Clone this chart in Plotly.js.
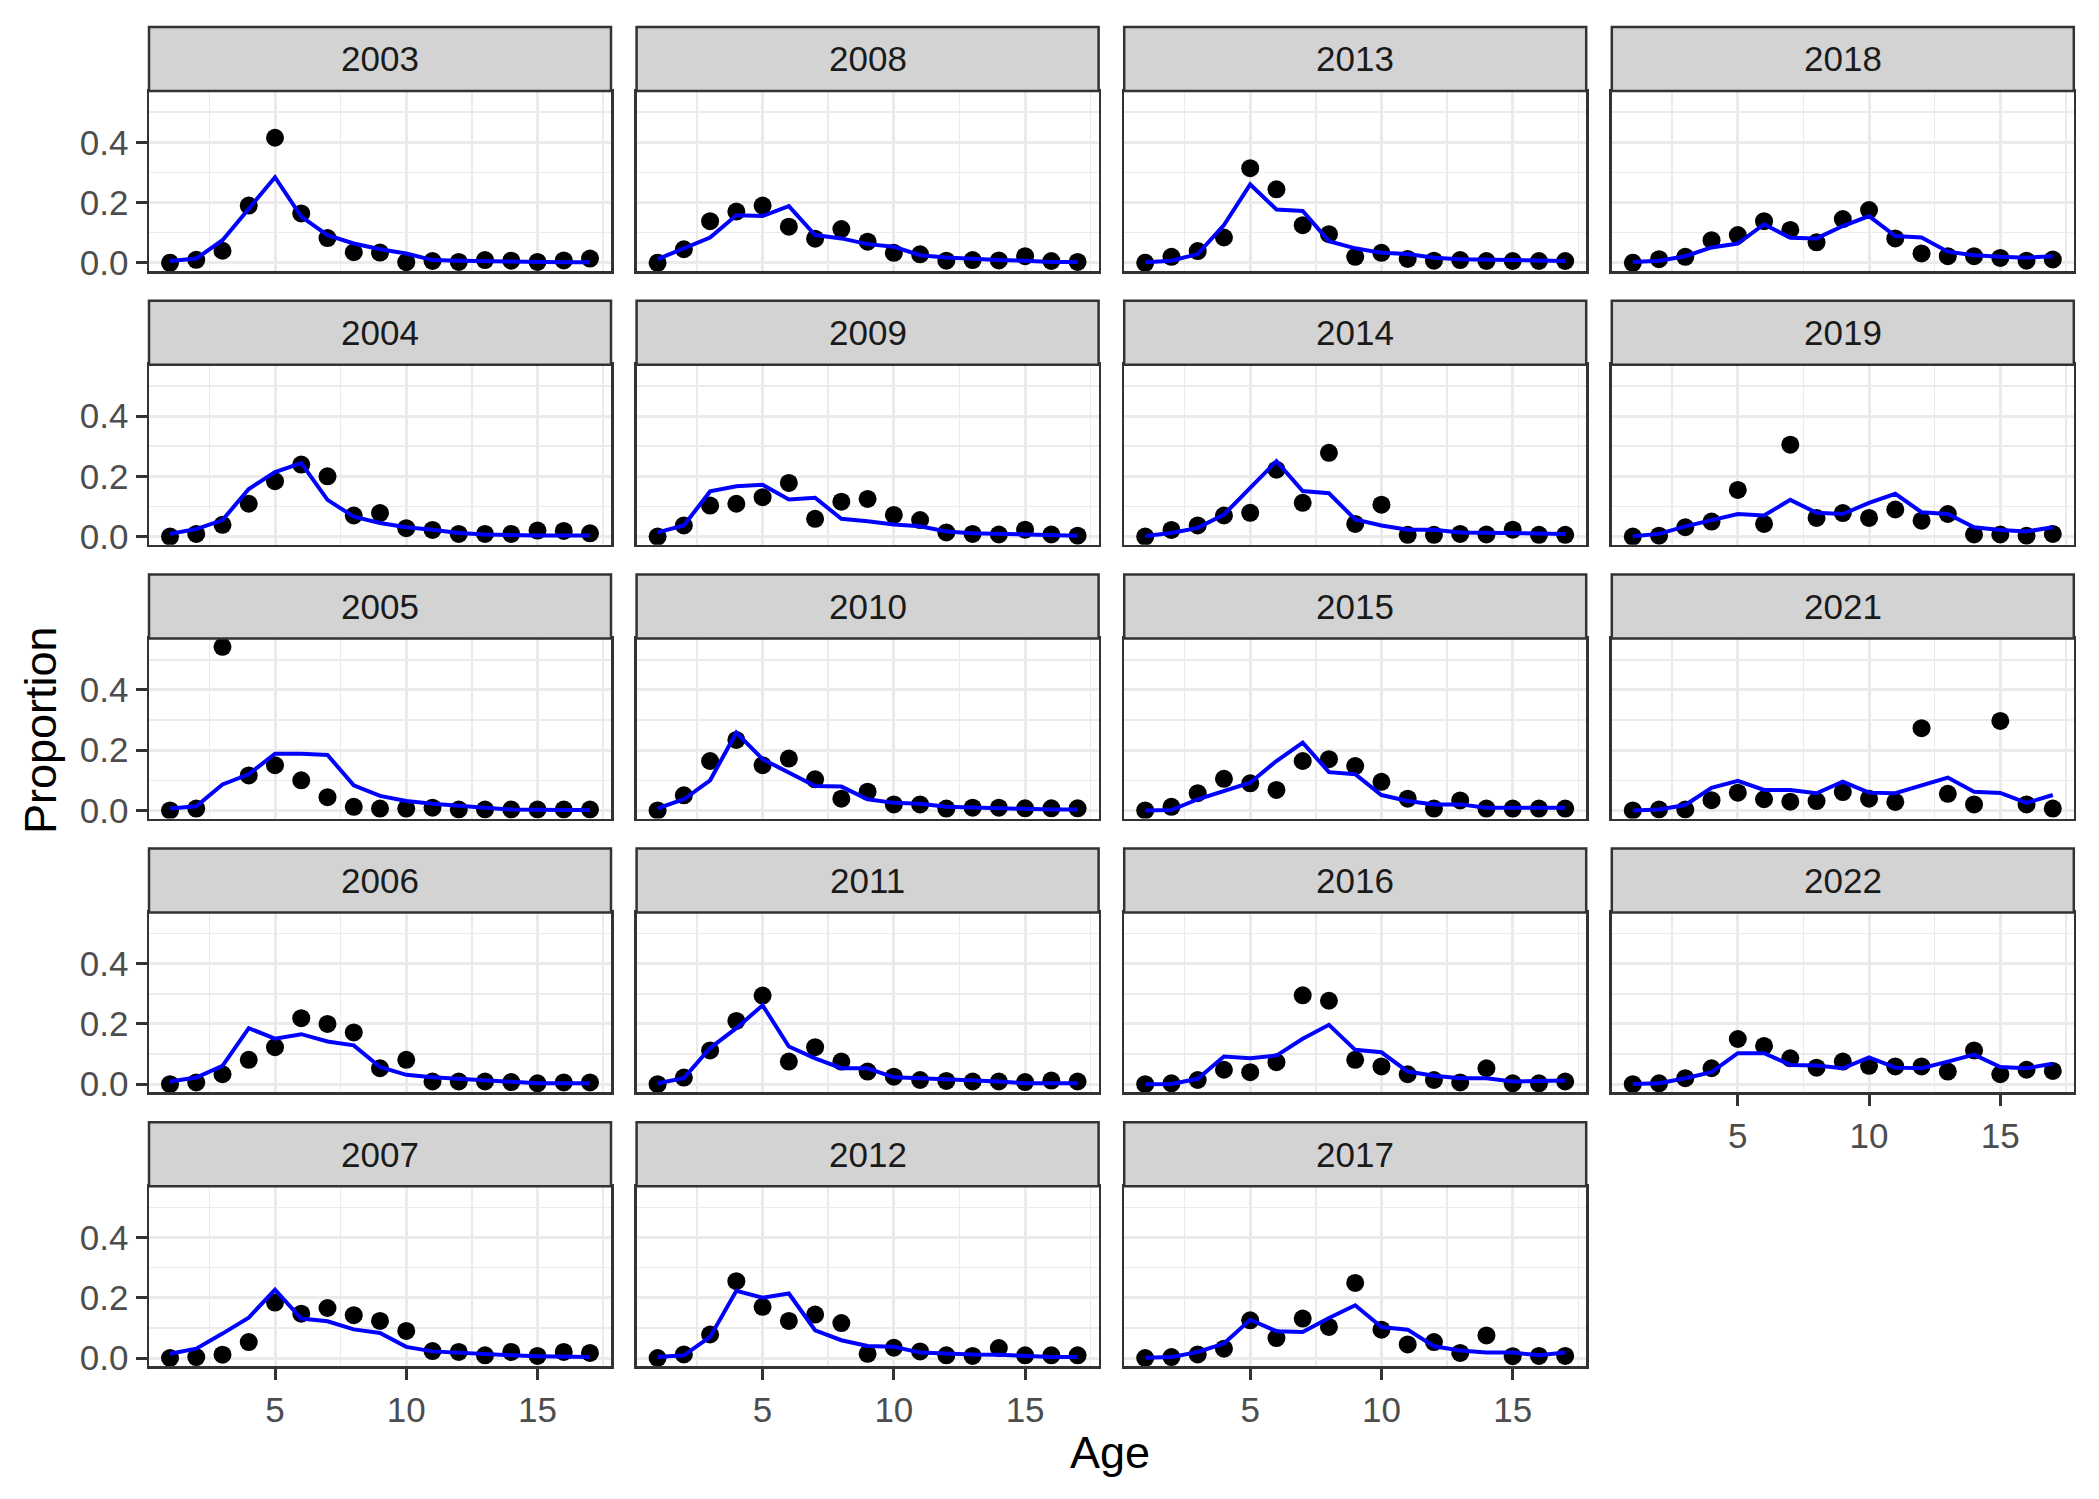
<!DOCTYPE html>
<html>
<head>
<meta charset="utf-8">
<script src="https://cdn.plot.ly/plotly-3.0.1.min.js"></script>
<style>
  body { margin: 0; background: #fff; }
  #plotComps { width: 2099px; height: 1499px; }
</style>
</head>
<body>
<div id="plotComps"></div>
<script>
// age composition fits: observed proportions (dots) vs expected (line)
const ages = [1, 2, 3, 4, 5, 6, 7, 8, 9, 10, 11, 12, 13, 14, 15, 16, 17];

// facet order runs down each column (facet_wrap dir = "v")
const years = [2003, 2004, 2005, 2006, 2007,
               2008, 2009, 2010, 2011, 2012,
               2013, 2014, 2015, 2016, 2017,
               2018, 2019, 2021, 2022];

const obs2003 = [0.000, 0.010, 0.040, 0.190, 0.415, 0.164, 0.082, 0.035, 0.034, 0.002, 0.006, 0.003, 0.009, 0.007, 0.003, 0.008, 0.014];
const fit2003 = [0.006, 0.014, 0.075, 0.180, 0.284, 0.153, 0.092, 0.064, 0.045, 0.031, 0.009, 0.007, 0.005, 0.003, 0.003, 0.002, 0.002];
const obs2004 = [0.000, 0.009, 0.039, 0.109, 0.184, 0.239, 0.200, 0.070, 0.078, 0.028, 0.022, 0.009, 0.009, 0.009, 0.020, 0.019, 0.011];
const fit2004 = [0.009, 0.025, 0.055, 0.158, 0.214, 0.244, 0.122, 0.066, 0.045, 0.031, 0.023, 0.012, 0.007, 0.004, 0.004, 0.004, 0.004];
const obs2005 = [0.000, 0.006, 0.543, 0.116, 0.150, 0.100, 0.044, 0.012, 0.006, 0.006, 0.009, 0.003, 0.003, 0.003, 0.003, 0.003, 0.003];
const fit2005 = [0.006, 0.014, 0.086, 0.120, 0.188, 0.188, 0.184, 0.083, 0.048, 0.031, 0.022, 0.014, 0.009, 0.003, 0.001, 0.001, 0.001];
const obs2006 = [0.000, 0.006, 0.033, 0.081, 0.123, 0.219, 0.200, 0.172, 0.053, 0.081, 0.009, 0.009, 0.009, 0.007, 0.003, 0.006, 0.006];
const fit2006 = [0.009, 0.022, 0.061, 0.186, 0.151, 0.166, 0.142, 0.129, 0.057, 0.031, 0.023, 0.018, 0.012, 0.009, 0.003, 0.003, 0.003];
const obs2007 = [0.000, 0.003, 0.011, 0.053, 0.184, 0.147, 0.166, 0.142, 0.123, 0.090, 0.023, 0.020, 0.009, 0.020, 0.007, 0.020, 0.017];
const fit2007 = [0.014, 0.031, 0.081, 0.134, 0.227, 0.131, 0.122, 0.095, 0.083, 0.037, 0.022, 0.017, 0.012, 0.009, 0.006, 0.003, 0.003];
const obs2008 = [0.000, 0.045, 0.138, 0.170, 0.190, 0.120, 0.080, 0.112, 0.070, 0.033, 0.028, 0.007, 0.009, 0.008, 0.022, 0.006, 0.003];
const fit2008 = [0.012, 0.048, 0.084, 0.158, 0.155, 0.188, 0.092, 0.081, 0.062, 0.053, 0.025, 0.018, 0.012, 0.009, 0.007, 0.003, 0.003];
const obs2009 = [0.000, 0.037, 0.103, 0.109, 0.131, 0.178, 0.059, 0.116, 0.125, 0.072, 0.055, 0.014, 0.009, 0.007, 0.023, 0.007, 0.003];
const fit2009 = [0.014, 0.037, 0.150, 0.167, 0.172, 0.123, 0.129, 0.059, 0.051, 0.040, 0.034, 0.017, 0.011, 0.009, 0.007, 0.003, 0.003];
const obs2010 = [0.000, 0.050, 0.164, 0.234, 0.150, 0.172, 0.103, 0.039, 0.062, 0.020, 0.020, 0.006, 0.009, 0.009, 0.007, 0.007, 0.007];
const fit2010 = [0.007, 0.037, 0.100, 0.258, 0.170, 0.125, 0.081, 0.079, 0.037, 0.025, 0.022, 0.012, 0.009, 0.007, 0.003, 0.003, 0.003];
const obs2011 = [0.000, 0.022, 0.112, 0.210, 0.294, 0.075, 0.123, 0.075, 0.042, 0.025, 0.014, 0.011, 0.009, 0.009, 0.007, 0.012, 0.009];
const fit2011 = [0.003, 0.020, 0.120, 0.186, 0.262, 0.125, 0.086, 0.053, 0.053, 0.023, 0.020, 0.017, 0.012, 0.009, 0.003, 0.003, 0.003];
const obs2012 = [0.000, 0.012, 0.078, 0.255, 0.170, 0.123, 0.144, 0.116, 0.014, 0.034, 0.022, 0.009, 0.007, 0.033, 0.009, 0.009, 0.009];
const fit2012 = [0.003, 0.009, 0.070, 0.223, 0.200, 0.214, 0.092, 0.059, 0.040, 0.037, 0.018, 0.014, 0.012, 0.011, 0.007, 0.003, 0.003];
const obs2013 = [0.000, 0.020, 0.039, 0.084, 0.314, 0.244, 0.125, 0.095, 0.020, 0.033, 0.013, 0.007, 0.009, 0.006, 0.006, 0.006, 0.006];
const fit2013 = [0.002, 0.007, 0.029, 0.125, 0.260, 0.177, 0.172, 0.072, 0.048, 0.033, 0.029, 0.017, 0.012, 0.011, 0.009, 0.006, 0.006];
const obs2014 = [0.000, 0.022, 0.037, 0.070, 0.079, 0.222, 0.112, 0.278, 0.042, 0.106, 0.006, 0.006, 0.009, 0.007, 0.023, 0.006, 0.006];
const fit2014 = [0.002, 0.012, 0.029, 0.073, 0.162, 0.250, 0.151, 0.144, 0.057, 0.037, 0.023, 0.023, 0.014, 0.012, 0.011, 0.009, 0.009];
const obs2015 = [0.000, 0.012, 0.057, 0.105, 0.090, 0.068, 0.164, 0.170, 0.147, 0.095, 0.039, 0.006, 0.033, 0.006, 0.006, 0.006, 0.006];
const fit2015 = [0.000, 0.001, 0.037, 0.064, 0.092, 0.164, 0.225, 0.127, 0.120, 0.051, 0.031, 0.020, 0.020, 0.009, 0.008, 0.008, 0.009];
const obs2016 = [0.000, 0.003, 0.014, 0.048, 0.040, 0.073, 0.295, 0.277, 0.081, 0.059, 0.033, 0.014, 0.006, 0.053, 0.003, 0.003, 0.009];
const fit2016 = [0.000, 0.001, 0.018, 0.092, 0.086, 0.095, 0.151, 0.197, 0.114, 0.106, 0.042, 0.028, 0.020, 0.020, 0.009, 0.009, 0.012];
const obs2017 = [0.000, 0.003, 0.012, 0.031, 0.125, 0.066, 0.131, 0.103, 0.249, 0.094, 0.045, 0.053, 0.017, 0.075, 0.006, 0.007, 0.007];
const fit2017 = [0.001, 0.003, 0.020, 0.048, 0.127, 0.089, 0.086, 0.133, 0.175, 0.103, 0.094, 0.039, 0.025, 0.018, 0.018, 0.009, 0.018];
const obs2018 = [0.000, 0.012, 0.020, 0.075, 0.092, 0.138, 0.109, 0.068, 0.145, 0.175, 0.081, 0.031, 0.022, 0.022, 0.016, 0.007, 0.011];
const fit2018 = [0.003, 0.007, 0.022, 0.051, 0.064, 0.128, 0.083, 0.081, 0.122, 0.155, 0.089, 0.084, 0.037, 0.025, 0.020, 0.017, 0.022];
const obs2019 = [0.000, 0.003, 0.031, 0.050, 0.155, 0.042, 0.305, 0.062, 0.078, 0.062, 0.090, 0.053, 0.075, 0.007, 0.007, 0.003, 0.009];
const fit2019 = [0.001, 0.009, 0.034, 0.053, 0.075, 0.070, 0.122, 0.079, 0.075, 0.112, 0.142, 0.081, 0.075, 0.031, 0.022, 0.017, 0.031];
const obs2021 = [0.000, 0.003, 0.003, 0.034, 0.059, 0.037, 0.029, 0.031, 0.061, 0.039, 0.028, 0.273, 0.055, 0.020, 0.297, 0.020, 0.006];
const fit2021 = [0.000, 0.003, 0.018, 0.075, 0.098, 0.068, 0.068, 0.057, 0.095, 0.059, 0.057, 0.084, 0.109, 0.062, 0.058, 0.025, 0.051];
const obs2022 = [0.000, 0.003, 0.020, 0.053, 0.150, 0.127, 0.086, 0.055, 0.075, 0.061, 0.059, 0.059, 0.042, 0.112, 0.033, 0.048, 0.044];
const fit2022 = [0.001, 0.003, 0.020, 0.040, 0.103, 0.103, 0.064, 0.062, 0.053, 0.089, 0.055, 0.053, 0.075, 0.098, 0.057, 0.053, 0.068];

const observed = [obs2003, obs2004, obs2005, obs2006, obs2007, obs2008, obs2009, obs2010, obs2011, obs2012,
                  obs2013, obs2014, obs2015, obs2016, obs2017, obs2018, obs2019, obs2021, obs2022];
const expected = [fit2003, fit2004, fit2005, fit2006, fit2007, fit2008, fit2009, fit2010, fit2011, fit2012,
                  fit2013, fit2014, fit2015, fit2016, fit2017, fit2018, fit2019, fit2021, fit2022];

const W = 2099, H = 1499;
const nRow = 5;
const fontFam = "'Liberation Sans', Arial, Helvetica, sans-serif";
const tickFont = {family: fontFam, size: 35, color: "#4D4D4D"};

let data = [];
let layout = {
    width: W,
    height: H,
    margin: {l: 0, r: 0, t: 0, b: 0},
    paper_bgcolor: "white",
    plot_bgcolor: "white",
    showlegend: false,
    hovermode: false,
    shapes: [],
    annotations: []
};

years.forEach(function (yr, i) {
    const col = Math.floor(i / nRow);
    const row = i % nRow;
    const left = 149 + col * 487.6;
    const right = left + 462;
    const top = 91 + row * 273.8;
    const bottom = top + 180;
    const stripTop = top - 64;
    const k = i === 0 ? "" : String(i + 1);

    // bottom row, or nothing underneath (2022)
    const showX = row === nRow - 1 || i === years.length - 1;
    const showY = col === 0;

    layout["xaxis" + k] = {
        domain: [left / W, right / W],
        anchor: "y" + k,
        range: [0.2, 17.8],
        tickmode: "array",
        tickvals: [5, 10, 15],
        showticklabels: showX,
        ticks: showX ? "outside" : "",
        ticklen: 11, tickwidth: 3, tickcolor: "#333333",
        tickfont: tickFont,
        showgrid: true, gridcolor: "#EBEBEB", gridwidth: 3,
        minor: {tickmode: "array", tickvals: [2.5, 7.5, 12.5, 17.5], showgrid: true, gridcolor: "#EBEBEB", gridwidth: 1.5},
        zeroline: false,
        showline: true, mirror: true, linecolor: "#333333", linewidth: 2.5,
        fixedrange: true
    };
    layout["yaxis" + k] = {
        domain: [1 - bottom / H, 1 - top / H],
        anchor: "x" + k,
        range: [-0.0272, 0.5702],
        tickmode: "array",
        tickvals: [0, 0.2, 0.4],
        ticktext: ["0.0", "0.2", "0.4"],
        showticklabels: showY,
        ticks: showY ? "outside" : "",
        ticklen: 11, tickwidth: 3, tickcolor: "#333333",
        tickfont: tickFont,
        showgrid: true, gridcolor: "#EBEBEB", gridwidth: 3,
        minor: {tickmode: "array", tickvals: [0.1, 0.3, 0.5], showgrid: true, gridcolor: "#EBEBEB", gridwidth: 1.5},
        zeroline: false,
        showline: true, mirror: true, linecolor: "#333333", linewidth: 2.5,
        fixedrange: true
    };

    // strip
    layout.shapes.push({
        type: "rect", xref: "paper", yref: "paper",
        x0: left / W, x1: right / W,
        y0: 1 - top / H, y1: 1 - stripTop / H,
        fillcolor: "#D3D3D3",
        line: {color: "#333333", width: 2.5}
    });
    layout.annotations.push({
        xref: "paper", yref: "paper",
        x: (left + right) / 2 / W, y: 1 - (top + stripTop) / 2 / H,
        text: String(yr), showarrow: false,
        xanchor: "center", yanchor: "middle",
        font: {family: fontFam, size: 35, color: "#1A1A1A"}
    });

    data.push({
        x: ages, y: observed[i],
        xaxis: "x" + k, yaxis: "y" + k,
        mode: "markers", type: "scatter",
        marker: {color: "black", size: 18}
    });
    data.push({
        x: ages, y: expected[i],
        xaxis: "x" + k, yaxis: "y" + k,
        mode: "lines", type: "scatter",
        line: {color: "#0000FF", width: 4}
    });
});

// axis titles
layout.annotations.push({
    xref: "paper", yref: "paper",
    x: 1110 / W, y: 1 - 1452 / H,
    text: "Age", showarrow: false,
    xanchor: "center", yanchor: "middle",
    font: {family: fontFam, size: 45, color: "black"}
});
layout.annotations.push({
    xref: "paper", yref: "paper",
    x: 40 / W, y: 1 - 730 / H,
    text: "Proportion", showarrow: false, textangle: -90,
    xanchor: "center", yanchor: "middle",
    font: {family: fontFam, size: 45, color: "black"}
});

Plotly.newPlot("plotComps", data, layout, {displayModeBar: false, staticPlot: true});
</script>
</body>
</html>
